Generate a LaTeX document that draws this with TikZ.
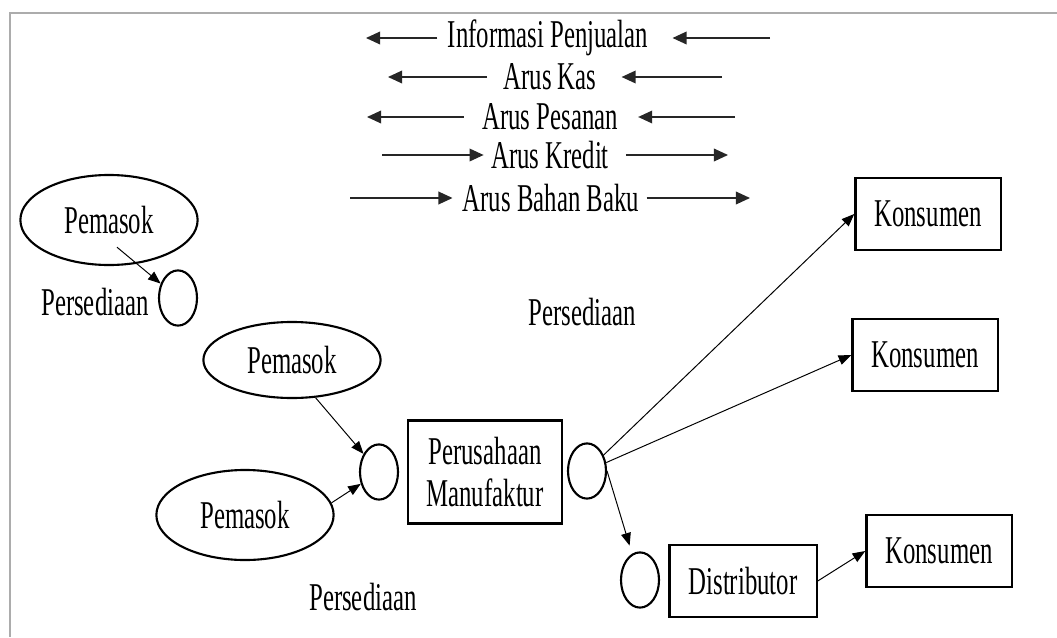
\documentclass[tikz,border=0pt]{standalone}
\usepackage{fontspec}
\setmainfont{Liberation Serif}[FakeStretch=0.63]
\usetikzlibrary{shapes.geometric, arrows.meta, positioning}

\begin{document}
\begin{tikzpicture}[
    x=0.025cm, y=-0.025cm,
    every node/.style={font=\fontsize{28}{30}\selectfont},
    supplier/.style={
        ellipse, draw=black, line width=1.5pt,
        minimum width=4.43cm, minimum height=2.25cm, inner sep=0pt
    },
    stock/.style={
        ellipse, draw=black, line width=1.5pt,
        minimum width=0.95cm, minimum height=1.38cm, inner sep=0pt
    },
    entity/.style={
        rectangle, draw=black, line width=1.6pt,
        minimum width=3.63cm, minimum height=1.8cm,
        align=center, inner sep=0pt
    },
    legend/.style={inner sep=0pt},
    arrow/.style={-{Triangle[length=9pt, width=7pt]}, line width=0.7pt},
    legarrow/.style={-{Triangle[length=10pt, width=9pt]}, line width=1pt, black!85},
]

\useasboundingbox (0,0) rectangle (1057,637);

% Bingkai
\draw[gray!65, line width=1.5pt] (1057,13) -- (10,13) -- (10,637);

% Keterangan arus
\node[legend] (info)    at (548,38)  {Informasi Penjualan};
\node[legend] (kas)     at (550,77)  {Arus Kas};
\node[legend] (pesanan) at (550,117) {Arus Pesanan};
\node[legend] (kredit)  at (550,155) {Arus Kredit};
\node[legend] (bahan)   at (551,198) {Arus Bahan Baku};

\coordinate (infoL)    at (366,38);
\coordinate (infoR)    at (770,38);
\coordinate (kasL)     at (388,77);
\coordinate (kasR)     at (722,77);
\coordinate (pesananL) at (367,117);
\coordinate (pesananR) at (735,117);
\coordinate (kreditL)  at (382,155);
\coordinate (kreditR)  at (728,155);
\coordinate (bahanL)   at (350,198);
\coordinate (bahanR)   at (750,198);

\draw[legarrow] ([xshift=-0.25cm]info.west) -- (infoL);
\draw[legarrow] (infoR) -- ([xshift=0.6cm]info.east);
\draw[legarrow] ([xshift=-0.4cm]kas.west) -- (kasL);
\draw[legarrow] (kasR) -- ([xshift=0.62cm]kas.east);
\draw[legarrow] ([xshift=-0.45cm]pesanan.west) -- (pesananL);
\draw[legarrow] (pesananR) -- ([xshift=0.5cm]pesanan.east);
\draw[legarrow] (kreditL) -- ([xshift=-0.18cm]kredit.west);
\draw[legarrow] ([xshift=0.42cm]kredit.east) -- (kreditR);
\draw[legarrow] (bahanL) -- ([xshift=-0.25cm]bahan.west);
\draw[legarrow] ([xshift=0.18cm]bahan.east) -- (bahanR);

% Pemasok dan persediaan
\node[supplier] (pem1) at (109,220) {Pemasok};
\node[supplier, minimum height=1.9cm] (pem2) at (292,360) {Pemasok};
\node[supplier] (pem3) at (245,515) {Pemasok};

\node[stock] (inv1) at (178,298) {};
\node[stock] (inv2) at (379,472) {};
\node[stock] (inv3) at (587,471) {};
\node[stock] (inv4) at (640,580) {};

\node (lbl1) at (95,302)  {Persediaan};
\node (lbl2) at (582,312) {Persediaan};
\node (lbl3) at (363,597) {Persediaan};

% Perusahaan, distributor, konsumen
\node[entity, minimum width=3.85cm, minimum height=2.58cm] (pabrik) at (485,472) {Perusahaan\\Manufaktur};
\node[entity, minimum width=3.68cm] (dist) at (743,581) {Distributor};
\node[entity] (kons1) at (928,214) {Konsumen};
\node[entity] (kons2) at (925,355) {Konsumen};
\node[entity] (kons3) at (939,551) {Konsumen};

% Arus barang
\draw[arrow] ([xshift=0.2cm, yshift=-0.68cm]pem1.center) -- (inv1);
\draw[arrow] (pem2.-58) -- (inv2);
\draw[arrow] (pem3.8) -- (inv2);
\draw[arrow] (inv3) -- (kons1.west);
\draw[arrow] (inv3) -- (kons2.west);
\draw[arrow, shorten >=6pt] (inv3.east) -- (inv4);
\draw[arrow] (dist.east) -- (kons3.west);

\end{tikzpicture}
\end{document}
